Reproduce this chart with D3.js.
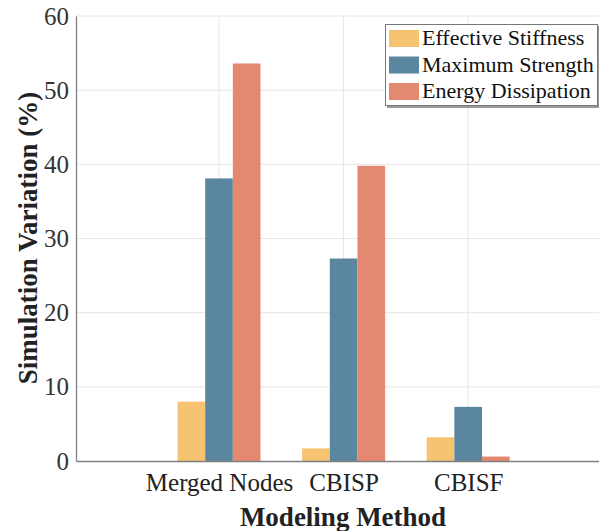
<!DOCTYPE html>
<html><head><meta charset="utf-8">
<script src="https://cdn.jsdelivr.net/npm/d3@7"></script>
<style>body{margin:0;background:#fff}svg{display:block}</style>
</head><body>
<svg id="c" width="599" height="531"></svg>
<script>
const categories = ["Merged Nodes", "CBISP", "CBISF"];
const seriesNames = ["Effective Stiffness", "Maximum Strength", "Energy Dissipation"];
const effectiveStiffness = [8.0, 1.7, 3.2];
const maximumStrength = [38.1, 27.3, 7.3];
const energyDissipation = [53.6, 39.8, 0.6];
const yTicks = [0, 10, 20, 30, 40, 50, 60];
const colors = ["#F6C470", "#5B869F", "#E48970"];

(function () {
const series = [effectiveStiffness, maximumStrength, energyDissipation];
const svg = d3.select("#c");
const font = "'Liberation Serif','Times New Roman',serif";

const mL = 76, mR = 599, mT = 16, mB = 461;
const x = d3.scaleLinear().domain([-0.148, 4.05]).range([mL, mR]);
const y = d3.scaleLinear().domain([0, 60]).range([mB, mT]);
const barW = x(1) - x(0);
const bw = barW * 0.222;

// gridlines
svg.append("g").selectAll("line").data(yTicks.filter(d => d > 0)).join("line")
  .attr("x1", mL).attr("x2", mR).attr("y1", d => y(d)).attr("y2", d => y(d))
  .attr("stroke", "#e6e6e6").attr("stroke-width", 1);
svg.append("g").selectAll("line").data(categories).join("line")
  .attr("x1", (d, i) => x(i + 1)).attr("x2", (d, i) => x(i + 1))
  .attr("y1", mT).attr("y2", mB)
  .attr("stroke", "#e6e6e6").attr("stroke-width", 1);

// bars
series.forEach((vals, s) => {
  svg.append("g").selectAll("rect").data(vals).join("rect")
    .attr("x", (d, i) => x(i + 1) + (s - 1.5) * bw)
    .attr("width", bw)
    .attr("y", d => y(d))
    .attr("height", d => y(0) - y(d))
    .attr("fill", colors[s]);
});

// axes
const yAxis = d3.axisLeft(y).tickValues(yTicks).tickSize(0).tickPadding(7);
const gy = svg.append("g").attr("transform", `translate(${mL},0)`).call(yAxis);
gy.select(".domain").attr("stroke", "#808080").attr("stroke-width", 1.3);
gy.selectAll("text").attr("font-family", font).attr("font-size", 25).attr("fill", "#333");

const xAxis = d3.axisBottom(x).tickValues([1, 2, 3]).tickFormat((d) => categories[d - 1]).tickSize(0).tickPadding(12);
const gx = svg.append("g").attr("transform", `translate(0,${mB})`).call(xAxis);
gx.select(".domain").attr("stroke", "#808080").attr("stroke-width", 1.3);
gx.selectAll("text").attr("font-family", font).attr("font-size", 25).attr("fill", "#222");

// axis titles
svg.append("text").attr("transform", `translate(37,238) rotate(-90)`)
  .attr("text-anchor", "middle").attr("font-family", font).attr("font-weight", "bold")
  .attr("font-size", 27).attr("fill", "#222").text("Simulation Variation (%)");
svg.append("text").attr("x", 343).attr("y", 526)
  .attr("text-anchor", "middle").attr("font-family", font).attr("font-weight", "bold")
  .attr("font-size", 27).attr("fill", "#222").text("Modeling Method");

// legend
const lg = svg.append("g");
lg.append("rect").attr("x", 387).attr("y", 26).attr("width", 212).attr("height", 82).attr("fill", "#999");
lg.append("rect").attr("x", 385.5).attr("y", 24.5).attr("width", 212).attr("height", 81)
  .attr("fill", "#fff").attr("stroke", "#777").attr("stroke-width", 1);
seriesNames.forEach((n, i) => {
  lg.append("rect").attr("x", 389).attr("y", 30 + i * 26.5).attr("width", 30).attr("height", 17).attr("fill", colors[i]);
  lg.append("text").attr("x", 422).attr("y", 45 + i * 26.5).attr("font-family", font)
    .attr("font-size", 22).attr("fill", "#111").text(n);
});
})();
</script>
</body></html>
